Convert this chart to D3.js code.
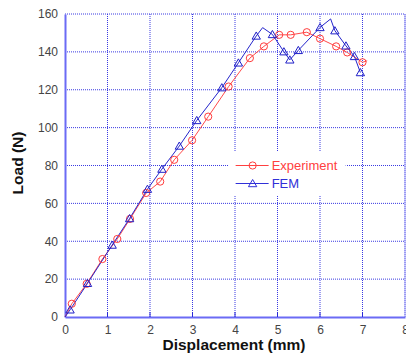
<!DOCTYPE html>
<html>
<head>
<meta charset="utf-8">
<script src="https://cdn.jsdelivr.net/npm/d3@7"></script>
<style>
  body { margin: 0; background: #fff; }
  svg { display: block; font-family: "Liberation Sans", Arial, sans-serif; }
</style>
</head>
<body>
<div id="chart"></div>
<script>
// values
const xTicks = [0, 1, 2, 3, 4, 5, 6, 7, 8];
const yTicks = [0, 20, 40, 60, 80, 100, 120, 140, 160];

const expX = [0, 0.16, 0.51, 0.88, 1.23, 1.53, 1.91, 2.24, 2.57, 2.99, 3.37, 3.85, 4.35, 4.68, 5.04, 5.31, 5.69, 6.0, 6.38, 6.64, 7.0, 7.11];
const expY = [0, 7, 17.5, 30.6, 41.2, 51.8, 65.5, 71.5, 83, 93.3, 105.8, 121.7, 136.7, 142.9, 149, 149, 150.4, 147, 142.9, 139.7, 134.5, 135.3];
const expNoMarker = [0, 21];

const femX = [0, 0.12, 0.53, 1.11, 1.52, 1.94, 2.28, 2.69, 3.1, 3.69, 4.08, 4.5, 4.65, 4.88, 5.15, 5.29, 5.49, 6.0, 6.25, 6.35, 6.61, 6.81, 6.95];
const femY = [0, 3.8, 17.8, 38, 52, 67.5, 78.1, 90.3, 103.8, 121.1, 134.2, 148.4, 152.8, 149.2, 140.1, 135.8, 140.8, 152.9, 157.4, 151.2, 143.2, 137.6, 129.1];
const femNoMarker = [0, 12, 18];

const margin = { top: 14, right: 1, bottom: 37, left: 65 };
const W = 406, H = 354;
const width = W - margin.left - margin.right;
const height = H - margin.top - margin.bottom;

const svg = d3.select("#chart").append("svg")
  .attr("width", W)
  .attr("height", H);
const g = svg.append("g")
  .attr("transform", "translate(" + margin.left + "," + margin.top + ")");

const x = d3.scaleLinear().domain([0, 8]).range([0, width]);
const y = d3.scaleLinear().domain([0, 160]).range([height, 0]);

// grid
g.append("g")
  .selectAll("line")
  .data(xTicks.slice(1))
  .enter().append("line")
  .attr("x1", d => x(d)).attr("x2", d => x(d))
  .attr("y1", 0).attr("y2", height)
  .attr("stroke", "#3a3ae2")
  .attr("stroke-dasharray", "1,1");
g.append("g")
  .selectAll("line")
  .data(yTicks.slice(1))
  .enter().append("line")
  .attr("x1", 0).attr("x2", width)
  .attr("y1", d => y(d)).attr("y2", d => y(d))
  .attr("stroke", "#3a3ae2")
  .attr("stroke-dasharray", "1,1");

// legend box covers the grid
const legX = x(3.85), legY = y(80) - 14;
g.append("rect")
  .attr("x", legX).attr("y", legY)
  .attr("width", 117).attr("height", 44)
  .attr("fill", "#fff");

// axes
const xAxis = g.append("g")
  .attr("transform", "translate(0," + height + ")")
  .call(d3.axisBottom(x).tickValues(xTicks).tickSize(0).tickPadding(8));
const yAxis = g.append("g")
  .call(d3.axisLeft(y).tickValues(yTicks).tickSize(0).tickPadding(7));
[xAxis, yAxis].forEach(a => {
  a.select(".domain").attr("stroke", "#6b6bf5").attr("stroke-width", 2);
  a.selectAll("text").attr("fill", "#444").style("font-size", "12px")
    .style("font-family", "'Liberation Sans', Arial, sans-serif");
});
// tick marks pointing inward
g.append("g").selectAll("line")
  .data(xTicks.slice(1, -1))
  .enter().append("line")
  .attr("x1", d => x(d)).attr("x2", d => x(d))
  .attr("y1", height).attr("y2", height - 5)
  .attr("stroke", "#2a2ad8");
g.append("line")
  .attr("x1", width).attr("x2", width)
  .attr("y1", 0).attr("y2", height)
  .attr("stroke", "#9a9af5").attr("stroke-width", 1);

// series
const line = d3.line().x(d => x(d[0])).y(d => y(d[1]));
const expPts = expX.map((v, i) => [v, expY[i]]);
const femPts = femX.map((v, i) => [v, femY[i]]);

g.append("path").datum(expPts)
  .attr("d", line)
  .attr("fill", "none")
  .attr("stroke", "#ff4a4a")
  .attr("stroke-width", 1);
g.append("path").datum(femPts)
  .attr("d", line)
  .attr("fill", "none")
  .attr("stroke", "#2525cc")
  .attr("stroke-width", 1);

const tri = d3.symbol().type(d3.symbolTriangle).size(30);

g.selectAll(".exp")
  .data(expPts.filter((d, i) => expNoMarker.indexOf(i) < 0))
  .enter().append("circle")
  .attr("class", "exp")
  .attr("cx", d => x(d[0])).attr("cy", d => y(d[1]))
  .attr("r", 3.6)
  .attr("fill", "none")
  .attr("stroke", "#ff3c3c");

g.selectAll(".fem")
  .data(femPts.filter((d, i) => femNoMarker.indexOf(i) < 0))
  .enter().append("path")
  .attr("class", "fem")
  .attr("d", tri)
  .attr("transform", d => "translate(" + x(d[0]) + "," + (y(d[1]) + 0.8) + ")")
  .attr("fill", "none")
  .attr("stroke", "#2020c8");

// legend
const leg = [
  { name: "Experiment", color: "#ff4040", dy: 14 },
  { name: "FEM", color: "#3030d8", dy: 32 }
];
leg.forEach(l => {
  const ly = legY + l.dy;
  g.append("line")
    .attr("x1", legX + 7).attr("x2", legX + 40)
    .attr("y1", ly).attr("y2", ly)
    .attr("stroke", l.color);
  if (l.name === "Experiment") {
    g.append("circle").attr("cx", legX + 24).attr("cy", ly).attr("r", 3.6)
      .attr("fill", "none").attr("stroke", l.color);
  } else {
    g.append("path").attr("d", tri)
      .attr("transform", "translate(" + (legX + 24) + "," + (ly + 0.8) + ")")
      .attr("fill", "none").attr("stroke", l.color);
  }
  g.append("text")
    .attr("x", legX + 43).attr("y", ly)
    .attr("dy", "0.36em")
    .attr("fill", l.color)
    .style("font-size", "13px")
    .text(l.name);
});

// axis titles
svg.append("text")
  .attr("x", 234)
  .attr("y", 350)
  .attr("text-anchor", "middle")
  .style("font-size", "15.5px")
  .style("font-weight", "bold")
  .attr("fill", "#111")
  .text("Displacement (mm)");
svg.append("text")
  .attr("transform", "translate(23,163) rotate(-90)")
  .attr("text-anchor", "middle")
  .style("font-size", "15.5px")
  .style("font-weight", "bold")
  .attr("fill", "#111")
  .text("Load (N)");
</script>
</body>
</html>
